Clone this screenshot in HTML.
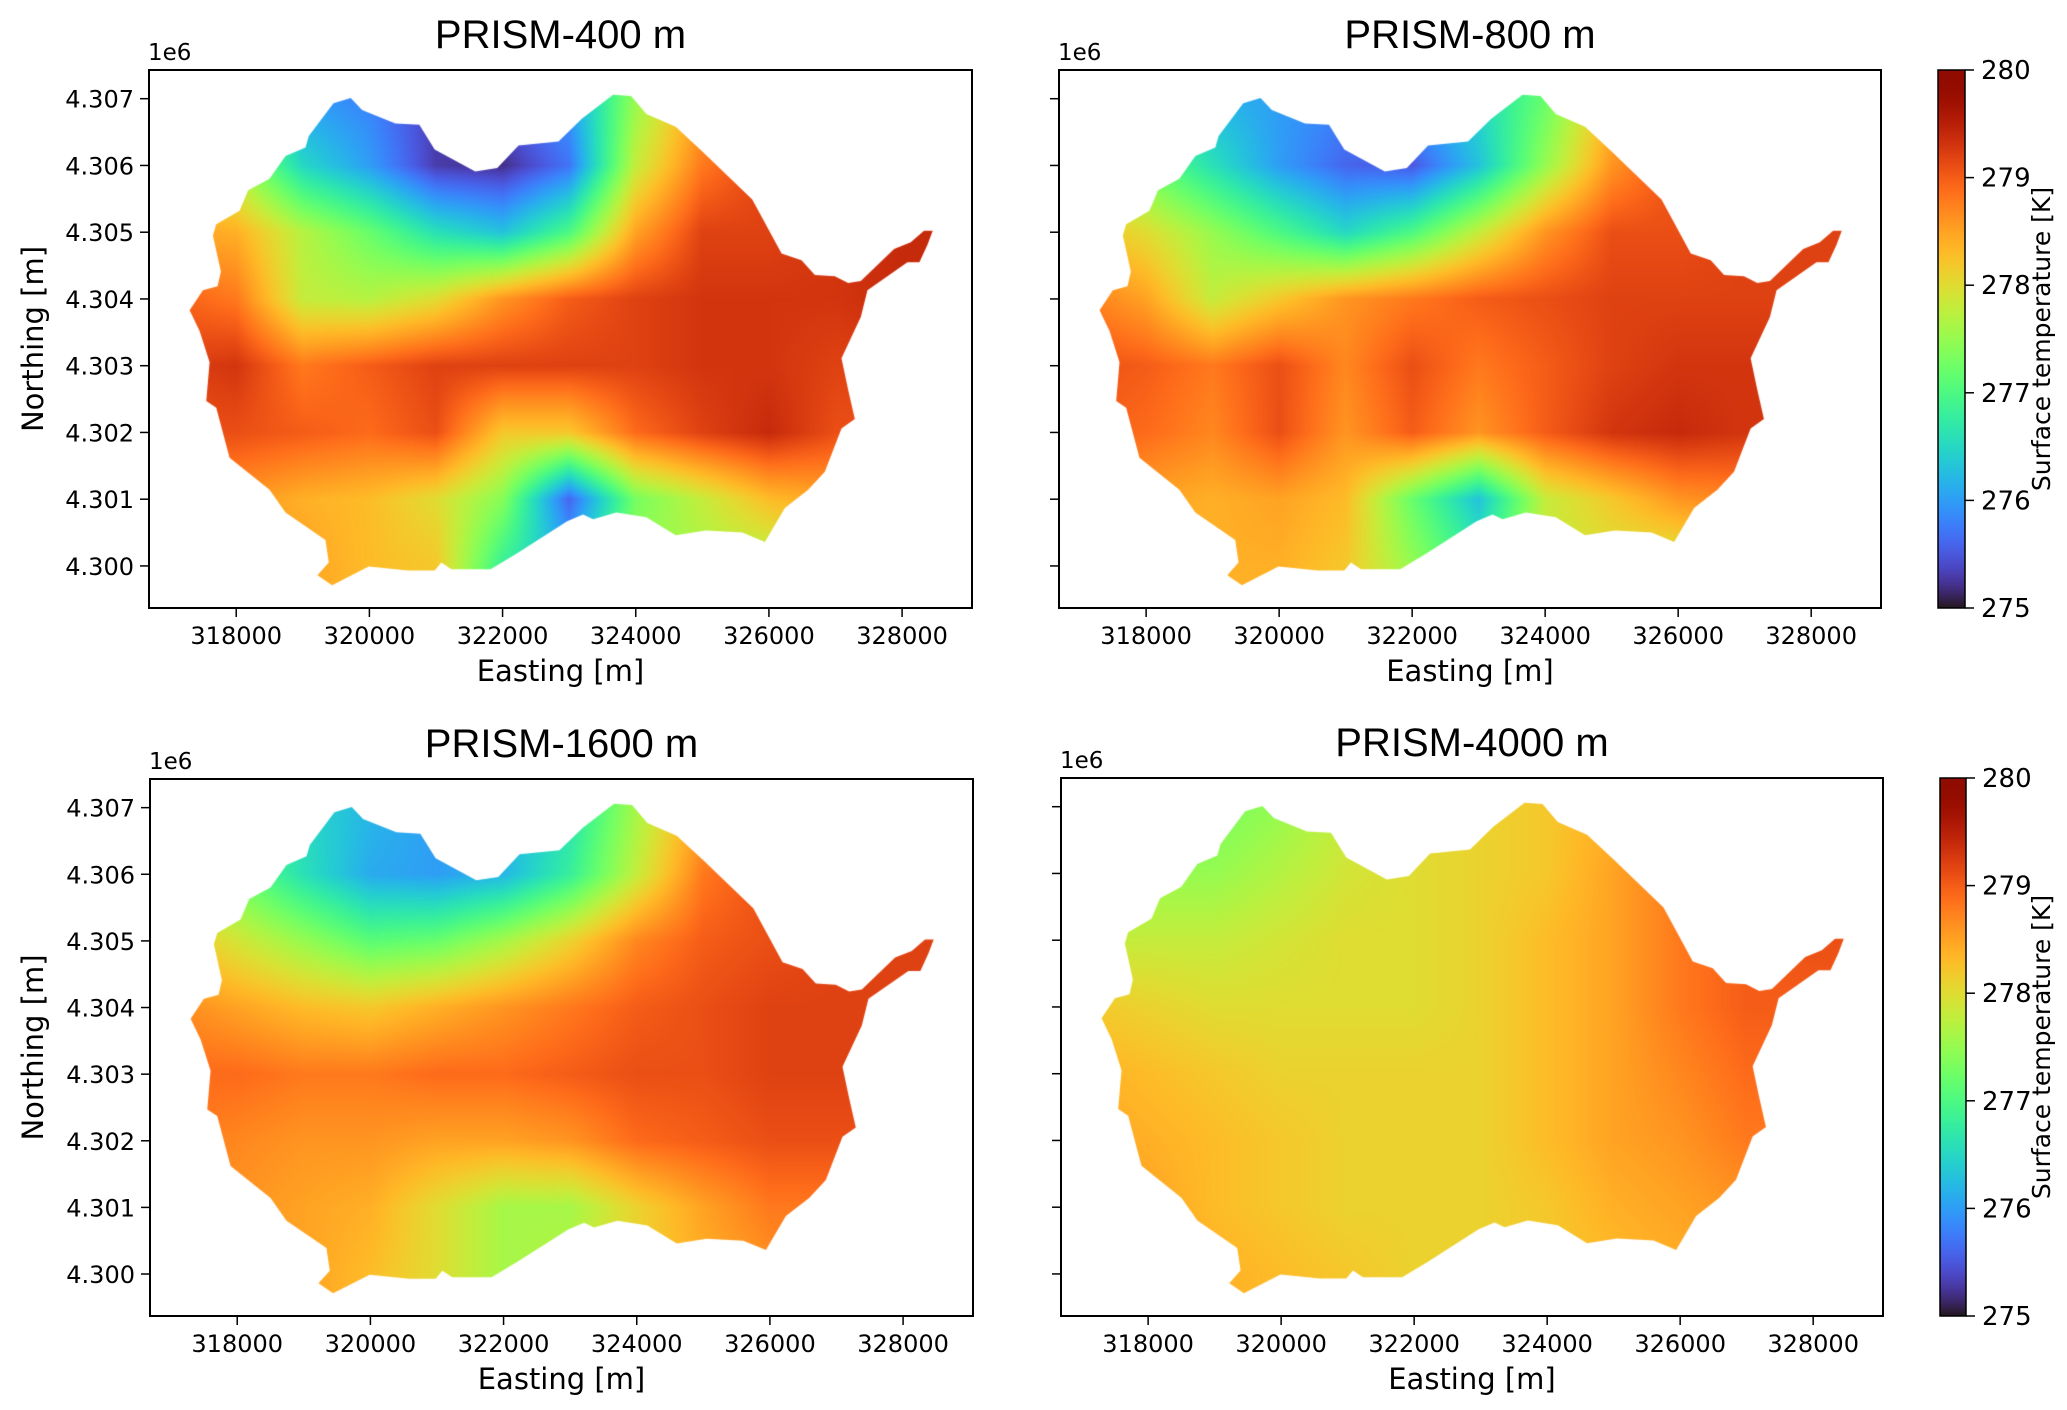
<!DOCTYPE html>
<html><head><meta charset="utf-8">
<style>
html,body{margin:0;padding:0;background:#fff;}
#wrap{position:relative;width:2067px;height:1410px;overflow:hidden;}
canvas,svg{position:absolute;left:0;top:0;}
</style></head>
<body>
<div id="wrap">
<canvas id="cv" width="2067" height="1410"></canvas>
<svg id="sv" width="2067" height="1410" xmlns="http://www.w3.org/2000/svg"></svg>
</div>
<script>
// grid axes (km)
const gridE = [317,318,319,320,321,322,323,324,325,326,327,328,329];
const gridN = [4307,4306,4305,4304,4303,4302,4301,4300];
// temperature grids [K], rows follow gridN
const t400 = [
[278,277.5,276,275.8,275.3,275.5,276,277.5,278.5,279,279,279,279],
[278.3,277.6,276.5,276,275.3,275.2,275.7,277.8,278.8,279.2,279.2,279.2,279.2],
[278.5,278.4,277.7,277.2,276.6,276.3,277,278.5,279.2,279.2,279.3,279.4,279.4],
[279,278.8,277.8,277.7,278,278.6,279,279.2,279.3,279.3,279.3,279.4,279.4],
[279.2,279.3,278.8,279,279.2,279.2,279.2,279.2,279.3,279.3,279.2,279.2,279.2],
[279.1,279.1,279,278.9,279.1,278.2,278.2,278.9,279.2,279.4,279.1,279.1,279.1],
[278.6,278.6,278.4,278.3,278,277.4,275.6,277.3,277.8,278.3,278.5,278.5,278.5],
[278.5,278.5,278.5,278.3,278.2,276.8,276.2,277.5,277.6,277.6,278,278,278]];
const t800 = [
[277.5,277,276.2,276,275.8,276,276.5,277.2,278.3,279,279,279,279],
[278,277.2,276.6,276,275.6,275.5,276.3,277.5,278.6,279.1,279.1,279.1,279.1],
[278.3,278,277.5,277,276.5,277,277.8,278.6,279.1,279.1,279.2,279.2,279.2],
[278.8,278.5,277.8,278.2,278.6,278.8,279,279.1,279.2,279.2,279.2,279.2,279.2],
[279.1,279,278.8,279.1,278.7,279.1,278.8,279,279.2,279.3,279.3,279.3,279.3],
[279,278.9,278.7,279.1,278.6,279,278.6,279,279.3,279.4,279.3,279.3,279.3],
[278.5,278.5,278.4,278.5,278.3,277.2,276.3,277.8,278.2,278.6,278.7,278.7,278.7],
[278.4,278.4,278.4,278.4,278.2,277.5,276.8,277.8,277.9,277.8,278,278,278]];
const t1600 = [
[277.5,277,276.5,276.2,276,276.1,276.6,277.6,278.5,279,279,279,279],
[277.8,277.2,276.6,276.1,276,276.2,276.8,277.8,278.8,279.1,279.2,279.2,279.2],
[278.3,277.9,277.5,277.1,277.2,277.6,278.1,278.7,279,279.1,279.2,279.2,279.2],
[278.7,278.5,278.3,278.2,278.4,278.6,278.8,279,279.1,279.2,279.2,279.2,279.2],
[278.9,278.9,278.8,278.8,278.9,278.9,279,279.1,279.1,279.2,279.2,279.2,279.2],
[278.8,278.7,278.6,278.6,278.5,278.5,278.6,278.9,279,279.1,279.1,279.1,279.1],
[278.6,278.6,278.5,278.4,278,277.6,277.6,278.1,278.5,278.8,278.8,278.8,278.8],
[278.5,278.5,278.5,278.3,278,277.6,277.7,278.1,278.4,278.6,278.7,278.7,278.7]];
const t4000 = [
[277.4,277.4,277.3,277.5,277.8,278,278.1,278.2,278.4,278.7,278.9,279.1,279.1],
[277.6,277.5,277.5,277.7,277.9,278,278.1,278.2,278.5,278.8,279,279.1,279.1],
[277.8,277.8,277.8,277.9,278,278,278.1,278.3,278.5,278.8,279,279.1,279.1],
[278.2,278.1,278,278,278,278,278.1,278.3,278.5,278.8,279,279,279],
[278.4,278.3,278.2,278.1,278.1,278.1,278.1,278.3,278.5,278.7,278.9,278.9,278.9],
[278.5,278.4,278.3,278.2,278.1,278.1,278.1,278.3,278.5,278.6,278.8,278.8,278.8],
[278.6,278.5,278.3,278.2,278.1,278.1,278.1,278.2,278.4,278.5,278.6,278.6,278.6],
[278.6,278.6,278.4,278.3,278.2,278.1,278.1,278.2,278.3,278.4,278.5,278.5,278.5]];
// catchment outline (km)
const outlineE = [319.46,319.72,319.89,320.39,320.75,320.98,321.59,321.92,322.24,322.84,323.19,323.66,323.93,324.16,324.60,325.00,325.75,326.19,326.49,326.69,326.99,327.19,327.38,327.88,328.13,328.33,328.46,328.38,328.26,328.08,327.48,327.38,327.09,327.19,327.29,327.09,326.84,326.59,326.24,325.94,325.60,325.05,324.60,324.16,323.71,323.36,323.21,322.97,322.22,321.82,321.23,321.08,320.98,320.58,319.99,319.44,319.22,319.39,319.34,318.74,318.50,317.90,317.70,317.55,317.60,317.45,317.30,317.50,317.72,317.77,317.65,317.70,318.05,318.18,318.50,318.74,319.04,319.09];
const outlineN = [4306.93,4307.01,4306.83,4306.63,4306.61,4306.24,4305.91,4305.96,4306.30,4306.36,4306.70,4307.06,4307.04,4306.77,4306.58,4306.21,4305.49,4304.68,4304.58,4304.36,4304.34,4304.24,4304.27,4304.75,4304.85,4305.02,4305.02,4304.81,4304.55,4304.55,4304.13,4303.73,4303.11,4302.64,4302.20,4302.06,4301.41,4301.14,4300.87,4300.36,4300.50,4300.53,4300.46,4300.73,4300.80,4300.70,4300.77,4300.67,4300.19,4299.95,4299.95,4300.05,4299.93,4299.93,4299.99,4299.71,4299.86,4300.05,4300.39,4300.80,4301.14,4301.62,4302.37,4302.47,4303.05,4303.52,4303.83,4304.13,4304.19,4304.41,4304.95,4305.12,4305.32,4305.63,4305.80,4306.14,4306.27,4306.44];
const xTicks = [318000,320000,322000,324000,326000,328000];
const yTicks = [4.300,4.301,4.302,4.303,4.304,4.305,4.306,4.307];
const cbTicks = [275,276,277,278,279,280];
const titles = ['PRISM-400 m','PRISM-800 m','PRISM-1600 m','PRISM-4000 m'];

const VMIN=275, VMAX=280;
const EMIN=316.69, EMAX=329.05, NMIN=4299.37, NMAX=4307.43;
const panels = [
 {box:[149,70,972,608], t:t400, yl:true},
 {box:[1059,70,1881,608], t:t800, yl:false, cb:[1938,70,1965,608]},
 {box:[150,779,973,1316], t:t1600, yl:true},
 {box:[1061,778,1883,1316], t:t4000, yl:false, cb:[1940,778,1966,1316]}];

function turbo(x){
  x=Math.max(0,Math.min(1,x));
  const r=0.13572138+x*(4.61539260+x*(-42.66032258+x*(132.13108234+x*(-152.94239396+x*59.28637943))));
  const g=0.09140261+x*(2.19418839+x*(4.84296658+x*(-14.18503333+x*(4.27729857+x*2.82956604))));
  const b=0.10667330+x*(12.64194608+x*(-60.58204836+x*(110.36276771+x*(-89.90310912+x*27.34824973))));
  const c=v=>Math.round(255*Math.max(0,Math.min(1,v)));
  return [c(r),c(g),c(b)];
}
function sample(t,e,n){
  let fx=(e-gridE[0])/(gridE[1]-gridE[0]);
  let fy=(gridN[0]-n)/(gridN[0]-gridN[1]);
  fx=Math.max(0,Math.min(gridE.length-1.0001,fx));
  fy=Math.max(0,Math.min(gridN.length-1.0001,fy));
  const i=Math.floor(fx), j=Math.floor(fy), a=fx-i, b=fy-j;
  return (t[j][i]*(1-a)+t[j][i+1]*a)*(1-b)+(t[j+1][i]*(1-a)+t[j+1][i+1]*a)*b;
}
const ctx=document.getElementById('cv').getContext('2d');
const svg=document.getElementById('sv');
const NS='http://www.w3.org/2000/svg';
function mk(tag,attrs,parent){const el=document.createElementNS(NS,tag);for(const k in attrs)el.setAttribute(k,attrs[k]);(parent||svg).appendChild(el);return el;}

panels.forEach((p,pi)=>{
  const [x0,y0,x1,y1]=p.box, W=x1-x0, H=y1-y0;
  const sx=e=>x0+(e-EMIN)/(EMAX-EMIN)*W;
  const sy=n=>y0+(NMAX-n)/(NMAX-NMIN)*H;
  const off=document.createElement('canvas'); off.width=W; off.height=H;
  const oc=off.getContext('2d'); const img=oc.createImageData(W,H);
  for(let yy=0;yy<H;yy++){const n=NMAX-(yy+0.5)/H*(NMAX-NMIN);
    for(let xx=0;xx<W;xx++){const e=EMIN+(xx+0.5)/W*(EMAX-EMIN);
      const c=turbo((sample(p.t,e,n)-VMIN)/(VMAX-VMIN));const k=(yy*W+xx)*4;
      img.data[k]=c[0];img.data[k+1]=c[1];img.data[k+2]=c[2];img.data[k+3]=255;}}
  oc.putImageData(img,0,0);
  ctx.save(); ctx.beginPath();
  outlineE.forEach((e,i)=>{const X=sx(e),Y=sy(outlineN[i]); i?ctx.lineTo(X,Y):ctx.moveTo(X,Y);});
  ctx.closePath(); ctx.clip(); ctx.drawImage(off,x0,y0); ctx.restore();

  const g=mk('g',{});
  
  
  const fr=mk('rect',{x:x0,y:y0,width:W,height:H,fill:'none',stroke:'#000','stroke-width':2},g);
  
  
  const tt=mk('text',{x:(x0+x1)/2,y:y0-22,'text-anchor':'middle','font-family':'Liberation Sans, sans-serif','font-size':40},g);
  tt.textContent=titles[pi];
  
  
  xTicks.forEach(v=>{const X=sx(v/1000);
    mk('line',{x1:X,x2:X,y1:y1,y2:y1+9,stroke:'#000','stroke-width':1.5},g);
    const t=mk('text',{x:X,y:y1+36,'text-anchor':'middle','font-family':'DejaVu Sans, sans-serif','font-size':24},g);
    t.textContent=v;
    
    });
  const xl=mk('text',{x:(x0+x1)/2,y:y1+73,'text-anchor':'middle','font-family':'DejaVu Sans, sans-serif','font-size':29},g);
  xl.textContent='Easting [m]';
  
  
  const e6=mk('text',{x:x0-1,y:y0-10,'font-family':'DejaVu Sans, sans-serif','font-size':23},g);
  e6.textContent='1e6';
  
  
  yTicks.forEach(v=>{const Y=sy(v*1000);
    mk('line',{x1:x0-9,x2:x0,y1:Y,y2:Y,stroke:'#000','stroke-width':1.5},g);
    if(p.yl){const t=mk('text',{x:x0-15,y:Y+9,'text-anchor':'end','font-family':'DejaVu Sans, sans-serif','font-size':24},g);
      t.textContent=v.toFixed(3);
      
      }});
  if(p.yl){const yl=mk('text',{x:0,y:0,'text-anchor':'middle','font-family':'DejaVu Sans, sans-serif','font-size':29,transform:`translate(43,${(y0+y1)/2}) rotate(-90)`},g);
    yl.textContent='Northing [m]';
    
    }
  if(p.cb){const [c0,cy0,c1,cy1]=p.cb;
    for(let yy=cy0;yy<cy1;yy++){const c=turbo(1-(yy-cy0+0.5)/(cy1-cy0));ctx.fillStyle=`rgb(${c[0]},${c[1]},${c[2]})`;ctx.fillRect(c0,yy,c1-c0,1);}
    const cbf=mk('rect',{x:c0,y:cy0,width:c1-c0,height:cy1-cy0,fill:'none',stroke:'#000','stroke-width':1.5},g);
    
    
    cbTicks.forEach(v=>{const Y=cy1-(v-VMIN)/(VMAX-VMIN)*(cy1-cy0);
      mk('line',{x1:c1,x2:c1+9,y1:Y,y2:Y,stroke:'#000','stroke-width':1.5},g);
      const t=mk('text',{x:c1+16,y:Y+9,'font-family':'DejaVu Sans, sans-serif','font-size':26},g);
      t.textContent=v;
      
      });
    const cl=mk('text',{x:0,y:0,'text-anchor':'middle','font-family':'DejaVu Sans, sans-serif','font-size':25,transform:`translate(2050,${(cy0+cy1)/2}) rotate(-90)`},g);
    cl.textContent='Surface temperature [K]';
    
    }
});
</script>
</body></html>
